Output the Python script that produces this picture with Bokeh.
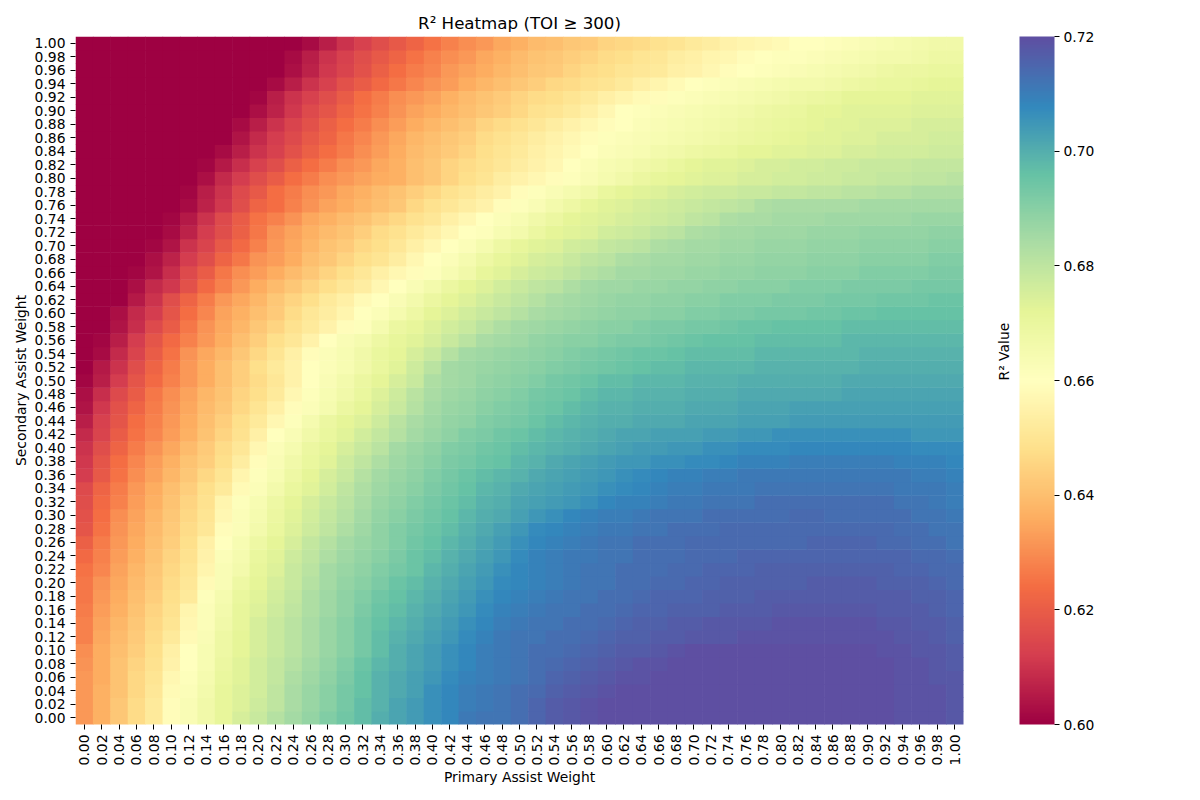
from math import pi
import numpy as np
from bokeh.embed import file_html
from bokeh.resources import INLINE
from bokeh.plotting import figure
from bokeh.models import ColumnDataSource, FactorRange, LinearColorMapper, ColorBar, FixedTicker, NumeralTickFormatter, CategoricalAxis
from bokeh.transform import transform

TITLE = "R² Heatmap (TOI ≥ 300)"
X_LABEL = "Primary Assist Weight"
Y_LABEL = "Secondary Assist Weight"
BAR_LABEL = "R² Value"
WEIGHTS = [f"{i / 50:.2f}" for i in range(51)]
BAR_TICKS = [0.60, 0.62, 0.64, 0.66, 0.68, 0.70, 0.72]

# R² x 1000, one list per secondary weight, primary weight 0.00 to 1.00 left to right
s100 = [600,600,600,600,600,600,600,600,600,600, 600,600,600,602,606,610,613,616,619,622, 625,628,630,632,635,637,639,640,642,643, 645,646,647,649,650,652,653,655,656,657, 658,660,660,661,662,663,664,665,666,667, 667]
s098 = [600,600,600,600,600,600,600,600,600,600, 600,600,602,606,610,613,616,619,622,625, 628,630,632,635,637,639,641,642,644,645, 647,648,650,651,653,654,656,657,659,660, 661,661,662,663,664,665,666,666,667,668, 668]
s096 = [600,600,600,600,600,600,600,600,600,600, 600,600,603,607,611,614,617,621,624,627, 629,632,634,636,638,640,642,643,645,647, 648,650,651,652,654,655,657,659,660,661, 662,663,664,665,666,667,668,669,669,670, 670]
s094 = [600,600,600,600,600,600,600,600,600,600, 600,602,606,610,613,617,620,623,626,629, 631,633,636,638,640,642,644,646,647,649, 650,652,654,656,658,660,661,662,663,664, 665,666,666,667,668,669,670,670,671,672, 672]
s092 = [600,600,600,600,600,600,600,600,600,600, 601,606,610,613,616,620,624,627,630,632, 634,637,639,641,643,645,647,648,650,652, 654,656,658,659,661,662,663,664,665,666, 667,668,669,670,672,672,672,672,673,673, 673]
s090 = [600,600,600,600,600,600,600,600,600,600, 603,607,611,615,618,622,625,628,631,634, 636,638,640,642,644,646,649,650,652,654, 657,660,661,662,663,664,665,666,667,668, 669,670,672,672,673,673,673,673,674,674, 674]
s088 = [600,600,600,600,600,600,600,600,600,602, 606,610,614,617,621,624,627,630,633,636, 638,640,642,645,647,649,651,653,655,657, 659,660,662,663,664,665,666,667,668,669, 670,671,672,673,673,674,674,674,675,675, 675]
s086 = [600,600,600,600,600,600,600,600,600,604, 608,612,615,619,622,626,629,632,635,638, 640,642,644,647,649,651,653,655,657,659, 661,662,663,664,665,666,667,668,669,670, 671,672,673,673,674,674,675,675,675,676, 676]
s084 = [600,600,600,600,600,600,600,600,602,606, 610,613,617,621,624,627,630,633,636,639, 641,643,645,648,650,652,654,656,658,660, 662,663,664,666,667,668,669,670,672,672, 673,673,674,674,675,675,676,676,676,677, 677]
s082 = [600,600,600,600,600,600,600,601,605,609, 613,616,621,624,627,630,632,635,637,640, 642,645,647,649,651,653,655,657,660,662, 664,665,667,668,670,672,673,673,674,675, 675,676,676,677,677,678,678,678,679,679, 679]
s080 = [600,600,600,600,600,600,600,603,608,612, 616,620,624,627,630,632,634,636,637,640, 642,645,648,650,653,655,657,659,661,663, 665,667,669,671,672,673,674,674,675,675, 676,676,677,677,678,678,679,679,680,680, 681]
s078 = [600,600,600,600,600,600,601,606,610,615, 619,624,627,630,632,635,637,639,641,644, 646,649,651,653,655,659,661,663,665,667, 670,672,673,674,675,676,677,677,678,678, 679,679,680,680,681,681,682,682,683,683, 683]
s076 = [600,600,600,600,600,600,602,607,611,616, 622,624,628,631,634,636,638,640,642,646, 649,651,653,655,659,661,663,666,668,671, 673,674,675,676,677,678,679,680,681,683, 684,684,684,684,684,685,685,685,685,685, 685]
s074 = [600,600,600,600,600,601,605,610,615,620, 625,628,631,635,637,639,641,644,646,649, 651,654,657,660,662,664,667,669,672,673, 674,675,676,677,678,680,681,683,684,684, 685,685,685,686,686,686,686,686,687,687, 687]
s072 = [600,600,600,600,600,602,607,612,616,621, 626,631,634,637,639,641,644,647,649,652, 654,657,660,661,664,666,669,672,673,674, 676,677,678,680,681,683,684,685,685,686, 686,686,687,687,687,688,688,688,688,689, 689]
s070 = [600,600,600,600,601,604,610,614,619,623, 628,632,635,638,641,643,646,648,651,654, 657,660,662,665,668,671,673,674,676,677, 679,680,681,683,684,685,685,686,686,687, 687,687,688,688,688,689,689,689,689,690, 690]
s068 = [600,600,600,600,603,607,612,616,622,626, 631,633,636,640,642,645,648,650,653,657, 660,662,665,668,671,673,675,676,678,680, 681,683,684,685,685,686,686,687,687,688, 688,688,689,689,689,690,690,690,690,691, 691]
s066 = [600,600,600,601,604,609,615,620,626,630, 633,636,639,642,645,648,651,654,657,659, 661,664,667,671,673,675,677,678,680,682, 683,685,685,686,686,687,687,688,688,689, 689,689,690,690,690,691,691,691,691,692, 692]
s064 = [600,600,600,603,608,611,617,623,628,632, 636,639,642,645,648,651,653,657,660,663, 666,669,672,674,676,678,680,681,683,685, 686,686,687,687,688,688,689,689,690,690, 690,691,691,691,692,692,692,692,693,693, 693]
s062 = [600,600,600,605,610,616,622,627,632,635, 638,642,645,648,652,654,658,660,663,666, 669,672,674,676,678,680,682,684,685,686, 687,688,688,689,689,690,690,691,691,691, 692,692,692,693,693,693,694,694,694,695, 695]
s060 = [600,600,603,608,612,618,624,629,634,637, 640,643,647,651,653,656,660,662,665,668, 672,674,676,678,680,682,684,685,686,687, 688,689,689,690,690,691,691,692,692,693, 693,693,694,694,695,695,696,696,696,696, 696]
s058 = [600,600,604,609,615,620,626,631,635,638, 642,645,649,652,655,659,661,665,669,671, 674,676,678,681,683,685,686,687,688,689, 690,690,691,692,692,693,693,694,695,695, 696,696,696,696,697,697,697,697,697,697, 697]
s056 = [600,601,606,612,618,623,628,632,636,640, 644,648,651,655,660,663,665,668,671,673, 675,678,681,684,685,686,688,689,690,690, 691,692,692,693,694,695,696,696,696,697, 697,697,697,697,698,698,698,698,698,698, 698]
s054 = [600,602,608,614,620,625,631,635,638,642, 646,650,654,659,662,664,667,670,672,675, 678,682,685,686,687,688,689,690,691,692, 693,694,695,695,696,697,697,697,697,698, 698,698,698,698,698,699,699,699,699,699, 699]
s052 = [600,605,610,616,622,627,632,636,640,644, 648,652,655,660,662,664,667,670,673,677, 681,685,686,687,688,689,690,691,692,693, 694,695,696,697,697,698,698,698,698,699, 699,699,699,699,699,700,700,700,700,700, 700]
s050 = [601,606,612,618,623,628,632,636,640,644, 647,651,655,660,663,666,669,672,675,678, 683,685,686,688,689,690,691,693,694,695, 697,697,698,698,698,699,699,699,700,700, 700,700,700,700,701,701,701,701,701,701, 701]
s048 = [603,609,615,620,626,630,634,638,641,645, 648,652,657,661,664,667,670,674,677,681, 684,686,687,689,690,691,693,694,695,697, 698,698,699,699,699,700,700,700,701,701, 701,701,701,701,702,702,702,702,702,702, 702]
s046 = [604,611,617,622,627,631,635,639,642,646, 650,654,659,662,665,669,672,675,678,682, 685,687,688,690,691,692,694,695,697,698, 699,699,700,700,700,701,701,701,702,702, 702,703,703,703,703,703,703,703,703,703, 703]
s044 = [606,613,618,624,628,632,636,640,644,648, 652,657,661,665,669,672,674,677,681,684, 686,688,689,691,692,693,695,697,698,699, 700,700,701,701,701,702,702,702,703,703, 703,704,704,704,704,704,704,704,704,704, 704]
s042 = [608,614,620,625,629,633,637,641,645,649, 654,660,663,667,670,673,676,679,682,685, 687,689,691,692,694,695,697,698,699,700, 701,702,702,703,703,703,704,704,705,705, 706,706,706,706,706,706,706,706,705,705, 705]
s040 = [610,616,622,627,631,635,639,643,647,651, 657,662,665,669,672,675,678,681,685,687, 689,691,692,694,695,697,698,699,700,701, 702,703,704,704,705,705,706,706,707,707, 707,708,708,708,708,708,708,708,707,707, 707]
s038 = [611,618,624,629,633,637,641,644,648,653, 659,663,667,670,673,677,680,683,686,688, 690,692,693,695,696,698,699,701,702,703, 704,705,705,706,706,707,707,708,709,709, 709,710,710,710,710,710,710,709,709,709, 708]
s036 = [612,619,625,630,634,638,642,646,650,656, 661,664,668,672,675,678,682,685,687,689, 691,693,695,697,698,699,701,702,703,704, 705,706,707,708,709,709,710,710,711,711, 711,711,711,711,711,711,711,711,710,710, 709]
s034 = [615,622,627,632,636,640,644,648,652,658, 662,666,670,673,676,680,683,686,688,690, 692,694,696,698,699,701,702,703,704,705, 706,707,708,709,710,710,711,711,711,712, 712,712,712,712,712,712,712,711,711,711, 710]
s032 = [616,623,628,633,637,641,645,649,656,661, 664,668,672,675,678,681,684,687,689,691, 693,695,697,699,700,702,703,704,705,706, 708,709,709,710,711,711,712,712,712,713, 713,713,713,713,713,713,713,712,712,711, 710]
s030 = [617,624,630,634,638,642,646,650,657,662, 665,669,673,676,679,682,685,688,690,692, 694,696,698,700,701,703,705,706,708,709, 710,710,711,712,712,712,713,713,713,713, 713,714,714,713,713,713,713,713,712,712, 711]
s028 = [618,625,631,635,639,643,647,651,659,662, 666,670,674,677,680,683,686,689,691,693, 695,697,699,701,703,705,707,708,709,710, 711,711,712,712,713,713,713,714,714,714, 714,714,714,714,714,714,714,713,713,712, 712]
s026 = [621,627,632,636,640,644,648,654,660,664, 668,672,675,679,682,685,687,689,691,694, 696,698,700,702,704,706,708,709,710,711, 712,712,713,713,713,714,714,714,714,714, 714,714,715,715,715,715,714,714,713,713, 712]
s024 = [623,628,633,637,641,645,649,655,662,665, 670,673,677,680,683,686,688,690,692,695, 697,699,701,703,705,707,709,710,711,711, 712,712,713,713,713,714,714,714,715,715, 715,715,715,715,715,715,715,715,714,714, 713]
s022 = [625,629,634,638,642,646,650,656,663,666, 671,674,678,681,685,687,689,691,693,695, 698,700,702,704,706,708,709,710,711,712, 712,713,713,713,714,714,715,715,715,716, 716,716,716,716,716,716,716,715,715,714, 714]
s020 = [626,631,635,639,643,647,651,658,663,668, 672,675,678,682,685,688,690,692,695,697, 699,701,703,705,707,708,709,710,711,712, 712,713,713,714,714,715,715,716,716,716, 716,716,717,717,717,717,716,716,716,715, 714]
s018 = [626,632,636,640,644,648,652,661,665,670, 673,676,679,683,686,689,691,694,696,698, 700,702,704,706,708,709,710,711,712,712, 713,713,714,715,715,715,716,716,716,717, 717,717,717,717,717,717,717,717,716,716, 715]
s016 = [627,633,637,641,645,649,656,662,666,671, 674,677,680,683,686,689,692,695,697,699, 701,703,705,707,709,710,711,712,712,713, 713,714,715,715,716,716,716,717,717,717, 718,718,718,718,718,718,717,717,717,716, 715]
s014 = [628,634,638,642,646,650,657,662,667,671, 675,678,681,684,687,690,693,696,698,700, 702,704,706,708,710,711,712,712,713,713, 714,715,716,716,717,717,718,718,718,718, 719,719,719,719,719,719,718,718,717,717, 716]
s012 = [628,635,639,643,647,652,658,663,668,672, 675,678,681,684,687,690,693,697,699,701, 703,705,707,709,711,712,712,713,713,714, 715,716,716,717,717,718,718,718,719,719, 719,719,719,719,719,719,719,718,718,717, 716]
s010 = [630,636,640,644,648,654,660,664,668,672, 675,678,681,684,687,690,693,697,700,702, 704,706,708,710,711,712,713,713,714,715, 716,717,717,718,719,720,720,720,720,720, 720,720,720,720,720,720,719,719,718,718, 717]
s008 = [631,636,641,645,649,655,660,664,669,673, 676,679,682,685,688,691,695,698,700,702, 704,706,708,710,711,712,713,714,715,716, 717,718,719,719,720,720,720,720,720,720, 720,720,720,720,720,720,720,719,719,718, 717]
s006 = [632,636,641,646,650,657,661,665,670,673, 676,679,683,686,689,692,696,699,701,703, 705,707,709,710,711,712,713,715,716,717, 718,719,719,720,720,720,720,720,720,720, 720,720,720,720,720,720,720,719,719,718, 718]
s004 = [632,637,641,646,651,658,662,666,671,674, 676,680,684,687,690,693,696,699,701,703, 706,708,710,711,712,713,714,716,717,718, 719,720,720,720,720,720,720,720,720,720, 720,720,720,720,720,720,720,719,719,719, 718]
s002 = [632,637,642,647,652,659,663,667,671,674, 677,680,684,687,690,693,697,699,702,704, 706,708,710,711,712,713,715,717,718,719, 720,720,720,720,720,720,720,720,720,720, 720,720,720,720,720,720,720,719,719,719, 718]
s000 = [632,637,642,647,652,659,663,667,671,675, 678,682,685,688,691,694,697,700,702,704, 706,708,711,712,712,713,715,717,718,719, 720,720,720,720,720,720,720,720,720,720, 720,720,720,720,720,720,720,719,719,719, 718]

ROWS = [s000, s002, s004, s006, s008, s010, s012, s014, s016, s018,
        s020, s022, s024, s026, s028, s030, s032, s034, s036, s038,
        s040, s042, s044, s046, s048, s050, s052, s054, s056, s058,
        s060, s062, s064, s066, s068, s070, s072, s074, s076, s078,
        s080, s082, s084, s086, s088, s090, s092, s094, s096, s098, s100]

xs, ys, vals = [], [], []
for yi, row in enumerate(ROWS):
    for xi, v in enumerate(row):
        xs.append(WEIGHTS[xi])
        ys.append(WEIGHTS[yi])
        vals.append(v / 1000)
source = ColumnDataSource(dict(x=xs, y=ys, v=vals))

# matplotlib "Spectral" anchors, expanded to 256 steps
anchors = np.array([(158,1,66),(213,62,79),(244,109,67),(253,174,97),(254,224,139),(255,255,191),
                    (230,245,152),(171,221,164),(102,194,165),(50,136,189),(94,79,162)], dtype=float)
t = np.linspace(0, 1, 256)
pos = np.linspace(0, 1, 11)
palette = ["#%02x%02x%02x" % tuple(int(round(np.interp(u, pos, anchors[:, c]))) for c in range(3)) for u in t]
mapper = LinearColorMapper(palette=palette, low=0.60, high=0.72)

FONT = "DejaVu Sans"
p = figure(width=1192, height=792, output_backend="svg", toolbar_location=None,
           x_range=FactorRange(factors=WEIGHTS), y_range=FactorRange(factors=WEIGHTS),
           min_border_left=75, min_border_right=229, min_border_top=36, min_border_bottom=68,
           title=TITLE)
p.rect("x", "y", width=1, height=1, source=source, fill_color=transform("v", mapper),
       line_color=None, dilate=True)

p.title.align = "center"
p.title.text_font = FONT
p.title.text_font_size = "16.67px"
p.title.text_font_style = "normal"
p.title.text_color = "black"
p.title.standoff = 7
p.outline_line_color = None
p.grid.visible = False
for ax in (p.xaxis[0], p.yaxis[0]):
    ax.axis_line_color = None
    ax.major_tick_line_color = "black"
    ax.major_tick_in = 0
    ax.major_tick_out = 5
    ax.minor_tick_line_color = None
    ax.major_label_text_font = FONT
    ax.major_label_text_font_size = "13.89px"
    ax.major_label_text_color = "black"
    ax.axis_label_text_font = FONT
    ax.axis_label_text_font_size = "13.89px"
    ax.axis_label_text_font_style = "normal"
    ax.axis_label_text_color = "black"
p.xaxis[0].axis_label = X_LABEL
p.yaxis[0].axis_label = Y_LABEL
p.xaxis[0].major_label_orientation = pi / 2
p.yaxis[0].major_label_orientation = "horizontal"
p.xaxis[0].axis_label_standoff = 1
p.yaxis[0].axis_label_standoff = 3

bar = ColorBar(color_mapper=mapper, ticker=FixedTicker(ticks=BAR_TICKS),
               formatter=NumeralTickFormatter(format="0.00"),
               width=35, height=688, padding=0, margin=0, location=(944, 0),
               major_tick_in=0, major_tick_out=5, major_tick_line_color="black",
               minor_tick_line_color=None, bar_line_color=None, border_line_color=None,
               background_fill_color=None, label_standoff=4,
               major_label_text_font=FONT, major_label_text_font_size="13.89px",
               major_label_text_color="black")
p.add_layout(bar, "center")

# the colour bar's label sits left of the bar: carried by an empty right-hand axis
p.extra_y_ranges = {"bar_label": FactorRange(factors=[" "])}
label_axis = CategoricalAxis(y_range_name="bar_label", axis_label=BAR_LABEL, bounds=(0, 0.9157),
                             axis_line_color=None, major_tick_line_color=None, minor_tick_line_color=None,
                             major_label_text_font_size="0px", major_label_text_color=None,
                             major_label_standoff=0, axis_label_standoff=34, axis_label_text_font=FONT,
                             axis_label_text_font_size="13.89px", axis_label_text_font_style="normal",
                             axis_label_text_color="black", axis_label_orientation=pi / 2)
p.add_layout(label_axis, "right")

open("out.html", "w").write(file_html(p, INLINE))
